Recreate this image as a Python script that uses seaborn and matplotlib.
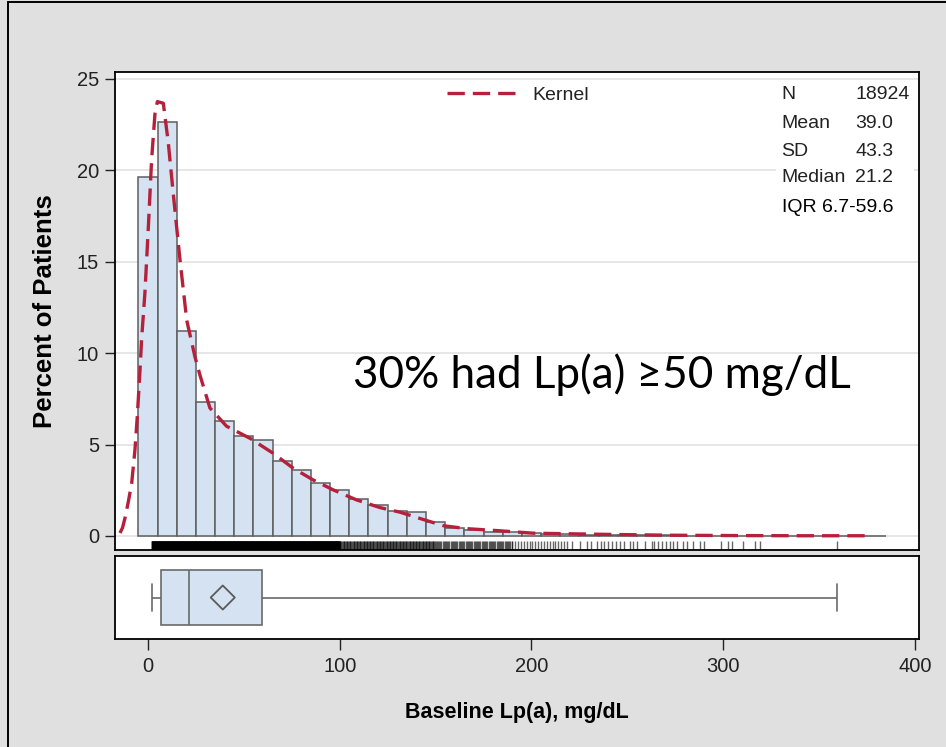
import numpy as np
import matplotlib
matplotlib.use("Agg")
import matplotlib.pyplot as plt
from matplotlib.lines import Line2D
from matplotlib.patches import Rectangle
import seaborn as sns

# ---------------- data ----------------
BIN_CENTERS = [0, 10, 20, 30, 40, 50, 60, 70, 80, 90, 100, 110, 120, 130, 140,
               150, 160, 170, 180, 190, 200, 210, 220, 230, 240, 250, 260, 270,
               280, 290, 300, 310, 320, 330, 340, 350, 360, 370, 380]
BIN_WIDTH = 10
BIN_PCT = [19.62, 22.63, 11.21, 7.35, 6.31, 5.49, 5.25, 4.10, 3.61, 2.88, 2.50,
           2.00, 1.69, 1.38, 1.33, 0.78, 0.43, 0.33, 0.24, 0.19, 0.15, 0.10,
           0.08, 0.06, 0.05, 0.04, 0.03, 0.03, 0.02, 0.02, 0.01, 0.01, 0.01,
           0.01, 0.01, 0.01, 0.01, 0.01, 0.01]

KDE_X = [-14.6, -13.3, -12.0, -10.2, -8.5, -6.8, -5.6, -4.2, -3.3, -1.6, 0.2,
         1.9, 3.65, 4.9, 8.0, 10.6, 13.2, 16.7, 20.2, 24.5, 27.1, 32.3, 41.0,
         53.2, 65.3, 75.8, 86.2, 96.6, 108.8, 121.0, 131.4, 142.0, 154.0,
         166.0, 183.6, 201.0, 235.7, 270.5, 305.0, 340.0, 375.7]
KDE_Y = [0.16, 0.44, 0.97, 1.9, 2.88, 4.7, 6.5, 9.0, 10.8, 13.3, 16.9, 20.6,
         23.1, 23.76, 23.67, 21.5, 18.7, 15.1, 11.8, 9.8, 8.8, 7.0, 6.0, 5.34,
         4.52, 3.70, 3.06, 2.52, 1.97, 1.55, 1.30, 0.95, 0.56, 0.40, 0.28,
         0.15, 0.09, 0.04, 0.02, 0.01, 0.01]

# rug: dense segments (start, stop, resolution) and isolated observations
RUG_DENSE = [(1.9, 100.0, 0.1), (100.0, 150.0, 0.4), (150.0, 190.0, 0.6),
             (190.0, 220.0, 1.5)]
RUG_SPARSE = [221, 225.3, 228.8, 231, 234, 236, 238, 240, 242, 244, 246, 248,
              251.4, 253.1, 255.2, 259.2, 262.7, 264, 266, 268, 270, 272, 274,
              275.7, 279.2, 281.3, 284.4, 287.9, 290, 298.7, 302.6, 304.7,
              310.5, 316.6, 319.2, 359.2]

BOX_MIN, BOX_Q1, BOX_MEDIAN, BOX_Q3, BOX_MAX = 2.3, 6.7, 21.2, 59.6, 359.2
BOX_MEAN = 39.0

STAT_NAMES = ["N", "Mean", "SD", "Median"]
STAT_VALUES = ["18924", "39.0", "43.3", "21.2"]
IQR_TEXT = "IQR 6.7-59.6"
ANNOTATION = "30% had Lp(a) \u226550 mg/dL"

Y_TICKS = [0, 5, 10, 15, 20, 25]
X_TICKS = [0, 100, 200, 300, 400]

# ---------------- style ----------------
sns.set_style("white")
plt.rcParams["font.family"] = ["Liberation Sans", "DejaVu Sans"]

BG = "#e0e0e0"
FILL = "#d4e2f1"
EDGE = "#5e5e5e"
RED = "#b5213b"
TXT = "#222222"

W, H = 946, 747
fig = plt.figure(figsize=(W / 100, H / 100), dpi=100, facecolor=BG)
ax = fig.add_axes([115 / W, 1 - 550 / H, 804 / W, 478 / H])
axb = fig.add_axes([115 / W, 1 - 639 / H, 804 / W, 83 / H], sharex=ax)

for a in (ax, axb):
    a.set_facecolor("white")
    for s in a.spines.values():
        s.set_color("black")
        s.set_linewidth(1.3)

# histogram
edges = [c - BIN_WIDTH / 2 for c in BIN_CENTERS] + [BIN_CENTERS[-1] + BIN_WIDTH / 2]
sns.histplot(x=BIN_CENTERS, weights=BIN_PCT, bins=edges, ax=ax, color=FILL,
             edgecolor=EDGE, linewidth=1.1, alpha=1.0, zorder=2)

# kernel curve
sns.lineplot(x=KDE_X, y=KDE_Y, ax=ax, color=RED, linewidth=2.4,
             linestyle=(0, (5.2, 2.4)), label="Kernel", zorder=4, sort=False)

# rug
rug_vals = []
for a0, a1, step in RUG_DENSE:
    rug_vals.extend(np.arange(a0, a1, step).tolist())
rug_vals.extend(RUG_SPARSE)
sns.rugplot(x=rug_vals, ax=ax, height=0.019, color="black", lw=0.8,
            alpha=0.6, zorder=3)

ax.set_xlim(-17.2, 402.1)
ax.set_ylim(-0.77, 25.38)
ax.set_yticks(Y_TICKS)
ax.set_yticklabels([str(t) for t in Y_TICKS])
ax.yaxis.grid(True, color="#e6e6e6", linewidth=1.4)
ax.xaxis.grid(False)
ax.set_axisbelow(True)
ax.tick_params(axis="y", left=True, length=7.5, width=1.0, color="#222222",
               labelsize=14.5, labelcolor=TXT, pad=4)
ax.tick_params(axis="x", bottom=False, labelbottom=False)
ax.set_xlabel("")
ax.set_ylabel("Percent of Patients", fontsize=18.5, fontweight="bold",
              color="black")
ax.yaxis.set_label_coords(-0.072, 0.5)

leg = ax.legend(loc="center left", bbox_to_anchor=(0.413, 0.952),
                frameon=False, handlelength=3.9, handletextpad=0.5,
                borderpad=0, borderaxespad=0, fontsize=14)
for t in leg.get_texts():
    t.set_color(TXT)

# stats inset
ax.add_patch(Rectangle((0.822, 0.68), 0.172, 0.27, transform=ax.transAxes,
                       facecolor="white", edgecolor="none", zorder=1))
row_y = [0.9519, 0.8933, 0.8347, 0.7803]
for name, val, yy in zip(STAT_NAMES, STAT_VALUES, row_y):
    ax.text(0.8284, yy, name, transform=ax.transAxes, ha="left", va="center",
            fontsize=14, color=TXT, zorder=5)
    ax.text(0.9204, yy, val, transform=ax.transAxes, ha="left", va="center",
            fontsize=14, color=TXT, zorder=5)
ax.text(0.8296, 0.7155, IQR_TEXT, transform=ax.transAxes, ha="left",
        va="center", fontsize=14, color="black", zorder=5)

# annotation
ax.text(0.296, 0.339, ANNOTATION, transform=ax.transAxes, ha="left",
        va="baseline", fontsize=31.7, color="black",
        family=["Lato", "DejaVu Sans"], zorder=6)

# box plot
sns.boxplot(x=[BOX_MIN, BOX_Q1, BOX_MEDIAN, BOX_Q3, BOX_MAX], ax=axb,
            whis=(0, 100), width=0.8, color=FILL, saturation=1,
            linecolor="#6a6a6a", linewidth=1.2, fliersize=0)
sns.scatterplot(x=[BOX_MEAN], y=[0], ax=axb, marker="D", s=150,
                color="#5a5a5a", zorder=5, legend=False)
axb.collections[-1].set_facecolor("none")
axb.collections[-1].set_edgecolor("#5a5a5a")
axb.collections[-1].set_linewidth(1.3)
axb.set_ylim(0.604, -0.604)
axb.set_yticks([])
axb.set_ylabel("")
axb.set_xticks(X_TICKS)
axb.set_xticklabels([str(t) for t in X_TICKS])
axb.tick_params(axis="x", bottom=True, length=8, width=1.0, color="#222222",
                labelsize=14.5, labelcolor=TXT, pad=5)
axb.set_xlabel("Baseline Lp(a), mg/dL", fontsize=15.5, fontweight="bold",
               color="black")
axb.xaxis.set_label_coords(0.5, -0.76)
axb.set_xlim(-17.2, 402.1)

# outer frame of the figure panel
fig.add_artist(Line2D([7.5 / W, 7.5 / W], [0, 1 - 1.5 / H], color="black",
                      lw=1.4, transform=fig.transFigure))
fig.add_artist(Line2D([7.5 / W, 1], [1 - 1.5 / H, 1 - 1.5 / H], color="black",
                      lw=1.4, transform=fig.transFigure))

fig.savefig("out.png", dpi=100, facecolor=BG)
